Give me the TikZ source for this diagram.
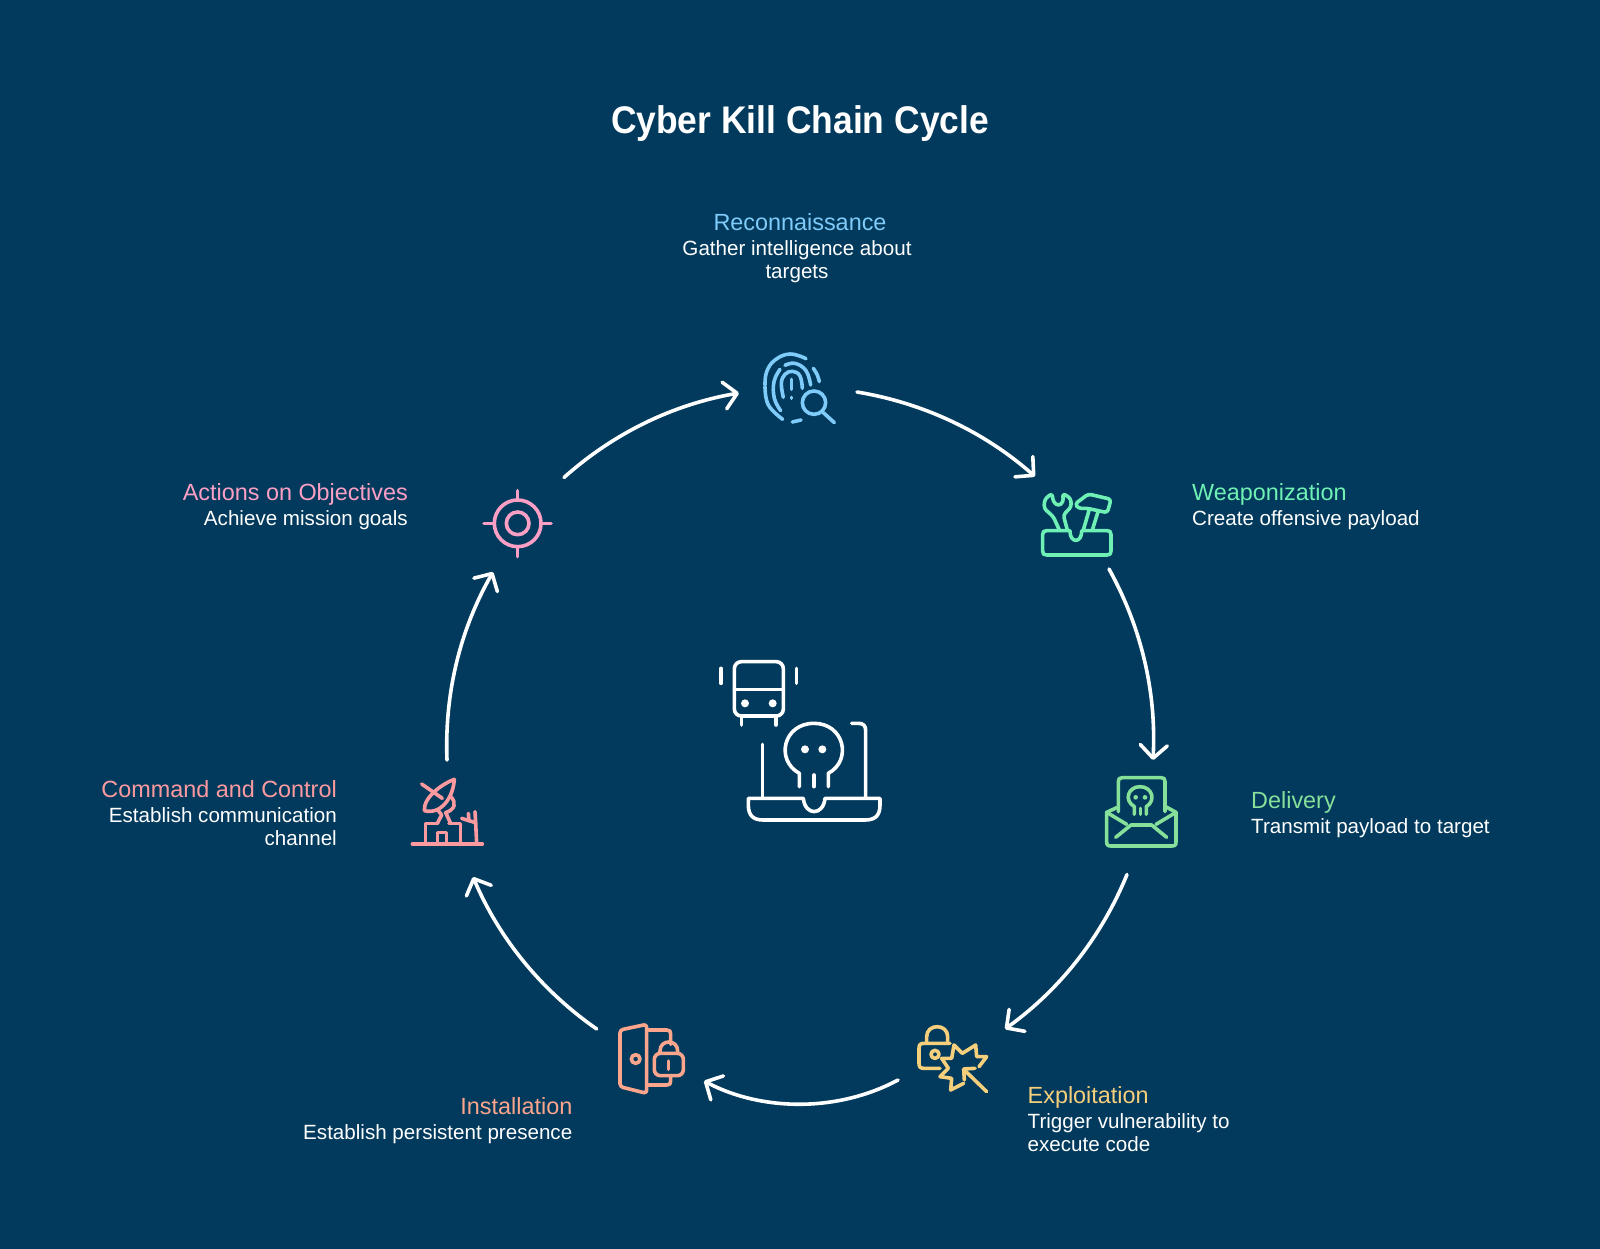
\documentclass[tikz,border=0pt]{standalone}
\usepackage{fontspec}
\setmainfont{Liberation Sans}
\newfontfamily\titlef[FakeStretch=0.92]{Liberation Sans Bold}
\usetikzlibrary{arrows.meta}
\definecolor{bgc}{HTML}{013A5C}
\definecolor{creco}{HTML}{7FCBFA}
\definecolor{cweap}{HTML}{6FF0B4}
\definecolor{cdeli}{HTML}{86E09A}
\definecolor{cexpl}{HTML}{F6CF7C}
\definecolor{cinst}{HTML}{FCA58D}
\definecolor{ccomm}{HTML}{FC9AA0}
\definecolor{cacti}{HTML}{FB9FC5}
\tikzset{
  titletext/.style={text=white,inner sep=0pt,font=\fontsize{38.5}{44}\titlef},
  lbl/.style={text=white,inner sep=0pt,font=\fontsize{20.6}{23.5}\selectfont},
  cycarrow/.style={draw=white,line width=3.6pt,line cap=round,looseness=0.88,
     -{Straight Barb[length=13pt,width=27pt,line width=3.6pt,round]}},
  ico/.style={line width=3.6pt,line cap=round,line join=round},
  iconscope/.style={x=0.33333pt,y=-0.33333pt},
}
\newcommand{\hd}[2]{{\color{#1}\fontsize{23.4}{23.5}\selectfont #2}}
\begin{document}
\begin{tikzpicture}[x=1pt,y=-1pt]
\fill[bgc] (0,0) rectangle (1600,1249);
\useasboundingbox (0,0) rectangle (1600,1249);

\node[titletext] (title) at (800,124) {Cyber Kill Chain Cycle};

\node[lbl,align=center,anchor=center] (reco) at (797,248) {\hspace*{6pt}\hd{creco}{Reconnaissance}\\[1.5pt]Gather intelligence about\\targets};
\node[lbl,align=left,anchor=west] (weap) at (1192,506.5) {\hd{cweap}{Weaponization}\\[1.5pt]Create offensive payload};
\node[lbl,align=left,anchor=west] (deli) at (1251,814.5) {\hd{cdeli}{Delivery}\\[1.5pt]Transmit payload to target};
\node[lbl,align=left,anchor=west] (expl) at (1027.5,1119) {\hd{cexpl}{Exploitation}\\[1.5pt]Trigger vulnerability to\\execute code};
\node[lbl,align=right,anchor=east] (inst) at (572.5,1121) {\hd{cinst}{Installation}\\[1.5pt]Establish persistent presence};
\node[lbl,align=right,anchor=east] (comm) at (337,813) {\hd{ccomm}{Command and Control}\\[1.5pt]Establish communication\\channel};
\node[lbl,align=right,anchor=east] (acti) at (408,506.5) {\hd{cacti}{Actions on Objectives}\\[1.5pt]Achieve mission goals};

% arrows
\coordinate (a1s) at (857,392);   \coordinate (a1e) at (1035,476.5);
\coordinate (a2s) at (1109,569);  \coordinate (a2e) at (1153,760);
\coordinate (a3s) at (1127,874.5);\coordinate (a3e) at (1005,1029);
\coordinate (a4s) at (898,1080);  \coordinate (a4e) at (704,1081);
\coordinate (a5s) at (596.7,1029);\coordinate (a5e) at (473,877);
\coordinate (a6s) at (447,760);   \coordinate (a6e) at (493,572);
\coordinate (a7s) at (564,477.5); \coordinate (a7e) at (739,393);
\draw[cycarrow] (a1s) to[bend left=16] (a1e);
\draw[cycarrow] (a2s) to[bend left=16] (a2e);
\draw[cycarrow] (a3s) to[bend left=16] (a3e);
\draw[cycarrow] (a4s) to[bend left=28] (a4e);
\draw[cycarrow] (a5s) to[bend left=16] (a5e);
\draw[cycarrow] (a6s) to[bend left=16] (a6e);
\draw[cycarrow] (a7s) to[bend left=16] (a7e);

% reconnaissance icon
\begin{scope}[shift={(740,340)},iconscope,draw=creco,ico]
\draw plot[smooth,tension=0.7] coordinates {(75,135)(80,95)(105,60)(150,42)(198,56)};
\draw plot[smooth,tension=0.7] coordinates {(220,85)(232,105)(238,125)};
\draw plot[smooth,tension=0.7] coordinates {(75,140)(85,195)(128,238)};
\draw (157,246) -- (183,240);
\draw plot[smooth,tension=0.7] coordinates {(120,88)(102,125)(103,175)(122,212)};
\draw plot[smooth,tension=0.7] coordinates {(135,76)(165,70)(198,92)(212,135)};
\draw plot[smooth,tension=0.7] coordinates {(130,172)(124,130)(135,103)(158,94)(180,108)(187,145)};
\draw (155,118) -- (155,148);
\draw (155,172) -- (155,175);
\draw (222,188) circle[radius=35];
\draw (250,218) -- (283,248);
\end{scope}

% weaponization icon
\begin{scope}[shift={(1030,480)},iconscope,draw=cweap,ico]
\draw (120,152) -- (50,152) .. controls (41,152) and (38,155) .. (38,164) -- (38,213) .. controls (38,222) and (41,225) .. (50,225) -- (231,225) .. controls (240,225) and (243,222) .. (243,213) -- (243,164) .. controls (243,155) and (240,152) .. (231,152) -- (155,152);
\draw (120,154) .. controls (120,190) and (155,190) .. (155,154);
\draw[rounded corners=3pt] (112,150) -- (100,105) -- (124,80) -- (122,55) -- (98,40) -- (100,66) -- (85,78) -- (70,66) -- (66,40) -- (44,58) -- (42,85) -- (70,110) -- (88,150);
\draw[rounded corners=3pt] (135,72) -- (175,42) -- (243,58) -- (232,98) -- (172,85) -- (145,85) -- cycle;
\draw (178,88) -- (160,150);
\draw (205,92) -- (187,150);
\end{scope}

% delivery icon
\begin{scope}[shift={(1095,765)},iconscope,draw=cdeli,ico]
\draw (70,140) -- (70,50) .. controls (70,41) and (73,38) .. (82,38) -- (198,38) .. controls (207,38) and (210,41) .. (210,50) -- (210,140);
\draw (65,128) -- (35,142) -- (35,230) .. controls (35,240) and (38,243) .. (48,243) -- (230,243) .. controls (240,243) and (243,240) .. (243,230) -- (243,142) -- (212,125);
\draw (35,142) -- (95,178);
\draw (243,142) -- (183,178);
\draw (62,217) -- (108,180) -- (170,180) -- (215,217);
\draw (118,148) -- (118,125) .. controls (85,105) and (100,65) .. (135,65) .. controls (170,65) and (185,105) .. (154,125) -- (154,148);
\draw (136,130) -- (136,148);
\fill[cdeli] (122,97) circle[radius=7];
\fill[cdeli] (150,97) circle[radius=7];
\end{scope}

% exploitation icon
\begin{scope}[shift={(905,1015)},iconscope,draw=cexpl,ico]
\draw (65,82) -- (65,65) .. controls (65,25) and (128,25) .. (128,65) -- (128,82);
\draw (135,85) -- (57,85) .. controls (46,85) and (42,89) .. (42,100) -- (42,145) .. controls (42,156) and (46,160) .. (57,160) -- (105,160);
\draw (90,118) circle[radius=12];
\draw (176,205) -- (137,225) -- (140,190) -- (105,185) -- (130,160) -- (110,130) -- (140,130) -- (147,90) -- (172,115) -- (212,90) -- (215,125) -- (245,125) -- (222,155);
\draw (245,230) -- (178,165);
\draw (178,195) -- (176,162) -- (210,160);
\end{scope}

% installation icon
\begin{scope}[shift={(605,1015)},iconscope,draw=cinst,ico]
\draw[rounded corners=3pt] (45,45) -- (125,28) -- (125,235) -- (45,215) -- cycle;
\draw (92,132) circle[radius=13];
\draw (130,45) -- (185,45) .. controls (194,45) and (197,48) .. (197,57) -- (197,88);
\draw (197,184) -- (197,198) .. controls (197,207) and (194,210) .. (185,210) -- (130,210);
\draw[rounded corners=6pt] (148,115) rectangle (235,182);
\draw (165,115) -- (165,108) .. controls (165,72) and (218,72) .. (218,108) -- (218,115);
\draw (190,138) -- (190,163);
\end{scope}

% command and control icon
\begin{scope}[shift={(405,770)},iconscope,draw=ccomm,ico]
\draw (22,222) -- (232,222);
\draw (62,222) -- (62,160) -- (98,160);
\draw (132,160) -- (167,160) -- (167,222);
\draw (97,222) -- (97,188) -- (125,188) -- (125,222);
\draw (170,145) -- (192,152) -- (190,130);
\draw (192,152) -- (212,158) -- (210,125);
\draw (212,158) -- (215,222);
\draw (148,28) .. controls (115,40) and (55,80) .. (58,122) .. controls (110,135) and (145,80) .. (148,28);
\draw (50,42) -- (112,85);
\draw (138,80) .. controls (155,100) and (150,118) .. (122,128) -- (137,160);
\draw (100,122) -- (110,135) -- (97,160);
\end{scope}

% actions icon
\begin{scope}[shift={(470,480)},iconscope,draw=cacti,ico]
\draw (143,130) circle[radius=70];
\draw (143,130) circle[radius=34];
\draw (143,32) -- (143,58);
\draw (143,204) -- (143,230);
\draw (42,130) -- (70,130);
\draw (216,130) -- (243,130);
\end{scope}

% centre icon
\begin{scope}[shift={(700,650)},iconscope,draw=white,ico]
\draw[rounded corners=7pt] (103,35) rectangle (250,198);
\draw (103,118) -- (250,118);
\fill[white] (135,160) circle[radius=12];
\fill[white] (218,160) circle[radius=12];
\draw (125,198) -- (125,225);
\draw (228,198) -- (228,225);
\draw (63,55) -- (63,100);
\draw (290,55) -- (290,100);
\draw (187,283) -- (187,445);
\draw (455,220) -- (475,220) .. controls (490,220) and (497,227) .. (497,242) -- (497,445);
\draw (145,445) -- (310,445) .. controls (315,498) and (370,498) .. (375,445) -- (540,445) -- (540,465) .. controls (540,497) and (525,510) .. (495,510) -- (190,510) .. controls (160,510) and (145,497) .. (145,465) -- cycle;
\draw (298,410) -- (298,370) .. controls (225,330) and (250,220) .. (342,220) .. controls (432,220) and (458,330) .. (385,370) -- (385,410);
\draw (342,375) -- (342,410);
\fill[white] (315,298) circle[radius=12];
\fill[white] (367,298) circle[radius=12];
\end{scope}
\end{tikzpicture}
\end{document}
